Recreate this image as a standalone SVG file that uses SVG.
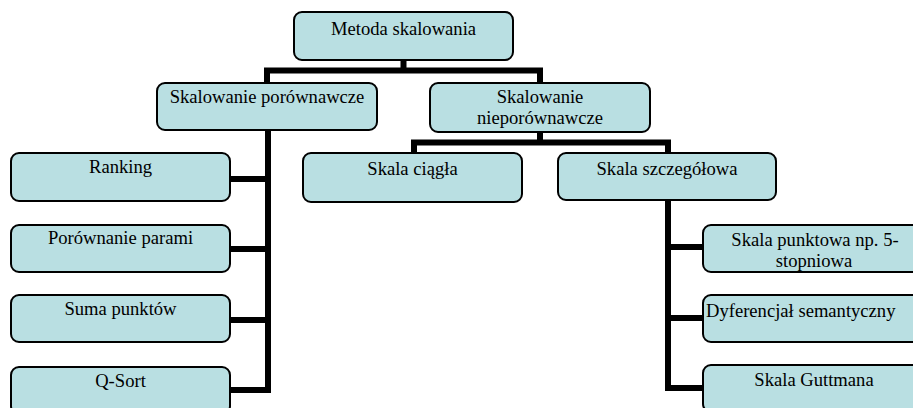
<svg xmlns="http://www.w3.org/2000/svg" width="913" height="408" viewBox="0 0 913 408">
<style>
.box{fill:#b9dfe2;stroke:#000;stroke-width:2}
.t{font-family:"Liberation Serif","Times New Roman",serif;font-size:18.6px;fill:#000;text-anchor:middle}
.c{fill:none;stroke:#000;stroke-width:6;stroke-linejoin:miter;stroke-linecap:butt}
</style>
<rect width="913" height="408" fill="#fff"/>
<g id="connectors">
<path class="c" d="M403.5 60 V73"/>
<path class="c" d="M267 83 V70.5 H540 V83"/>
<path class="c" d="M268 130 V390 H230"/>
<path class="c" d="M230 179 H268 M230 249 H268 M230 320 H268"/>
<path class="c" d="M540 132 V145"/>
<path class="c" d="M414 153 V142.5 H668 V153"/>
<path class="c" d="M668 200 V388 H703"/>
<path class="c" d="M668 247 H703 M668 318 H703"/>
</g>
<g id="n-root"><rect class="box" x="294" y="12" width="219" height="48" rx="8"/><text class="t" x="403.5" y="35">Metoda skalowania</text></g>
<g id="n-porownawcze"><rect class="box" x="157" y="83" width="220" height="47" rx="8"/><text class="t" x="267" y="103">Skalowanie porównawcze</text></g>
<g id="n-nieporownawcze"><rect class="box" x="430" y="83" width="220" height="49" rx="8"/><text class="t" x="540" y="103">Skalowanie</text><text class="t" x="540" y="124">nieporównawcze</text></g>
<g id="n-ranking"><rect class="box" x="11" y="153" width="219" height="48" rx="8"/><text class="t" x="120.5" y="173">Ranking</text></g>
<g id="n-parami"><rect class="box" x="11" y="225" width="219" height="47" rx="8"/><text class="t" x="120.5" y="244">Porównanie parami</text></g>
<g id="n-suma"><rect class="box" x="11" y="295" width="219" height="47" rx="8"/><text class="t" x="120.5" y="315">Suma punktów</text></g>
<g id="n-qsort"><rect class="box" x="11" y="367" width="219" height="47" rx="8"/><text class="t" x="120.5" y="387">Q-Sort</text></g>
<g id="n-ciagla"><rect class="box" x="303" y="153" width="219" height="49" rx="8"/><text class="t" x="412.5" y="175">Skala ciągła</text></g>
<g id="n-szczegolowa"><rect class="box" x="558" y="153" width="218" height="47" rx="8"/><text class="t" x="667" y="175">Skala szczegółowa</text></g>
<g id="n-punktowa"><rect class="box" x="703" y="225" width="218" height="47" rx="8"/><text class="t" x="815" y="246">Skala punktowa np. 5-</text><text class="t" x="814" y="267">stopniowa</text></g>
<g id="n-dyferencjal"><rect class="box" x="703" y="295" width="218" height="47" rx="8"/><text class="t" x="706" y="317" style="text-anchor:start">Dyferencjał semantyczny</text></g>
<g id="n-guttman"><rect class="box" x="703" y="365" width="218" height="47" rx="8"/><text class="t" x="814" y="386">Skala Guttmana</text></g>
</svg>
